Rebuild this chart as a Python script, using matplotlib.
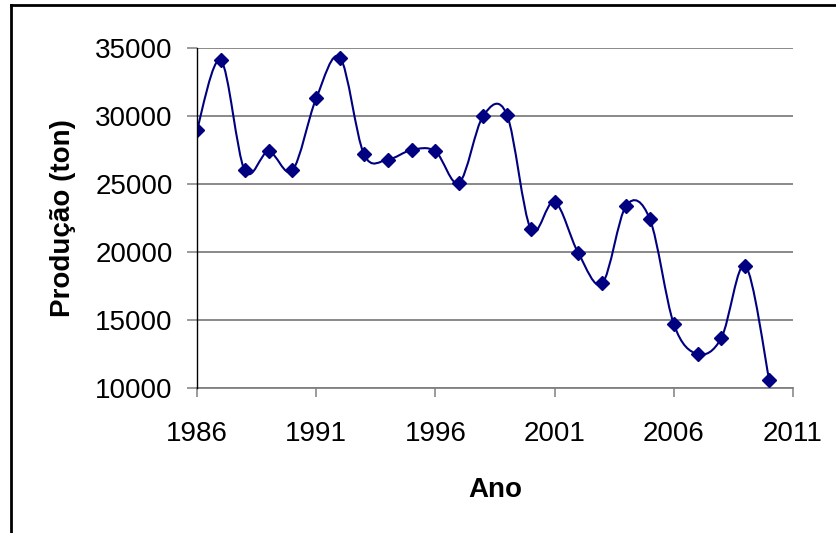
import matplotlib.pyplot as plt
import numpy as np
from matplotlib.path import Path
from matplotlib.patches import PathPatch
from matplotlib.lines import Line2D

plt.rcParams['font.family'] = ['Liberation Sans', 'DejaVu Sans']

# dados
anos = [1986, 1987, 1988, 1989, 1990, 1991, 1992, 1993, 1994, 1995, 1996, 1997,
        1998, 1999, 2000, 2001, 2002, 2003, 2004, 2005, 2006, 2007, 2008, 2009, 2010]
producao = [29000, 34100, 26000, 27400, 26000, 31300, 34300, 27200, 26800, 27500, 27400, 25100,
            30000, 30100, 21700, 23700, 19900, 17700, 23400, 22400, 14700, 12500, 13700, 19000, 10600]
xticks = [1986, 1991, 1996, 2001, 2006, 2011]
yticks = [10000, 15000, 20000, 25000, 30000, 35000]

cor = '#000080'
cinza = '#808080'


def curva_suave(x, y):
    """Caminho Bezier cúbico ao estilo do Excel (linha suavizada) passando pelos pontos."""
    p = np.column_stack([x, y]).astype(float)
    n = len(p)
    verts = [p[0]]
    codes = [Path.MOVETO]
    for i in range(n - 1):
        p0 = p[i - 1] if i > 0 else p[i]
        p3 = p[i + 2] if i + 2 < n else p[i + 1]
        c1 = p[i] + (p[i + 1] - p0) / 6
        c2 = p[i + 1] - (p3 - p[i]) / 6
        verts += [c1, c2, p[i + 1]]
        codes += [Path.CURVE4] * 3
    return Path(verts, codes)


fig = plt.figure(figsize=(8.37, 5.33), dpi=100)
ax = fig.add_axes([197 / 837, 1 - 388 / 533, 596 / 837, 340 / 533])

ax.add_patch(PathPatch(curva_suave(anos, producao), facecolor='none', edgecolor=cor, lw=1.5, zorder=3))
ax.plot(anos, producao, linestyle='none', marker='D', markersize=7, color=cor, zorder=4)

ax.set_xlim(1986, 2011)
ax.set_ylim(10000, 35000)
ax.set_xticks(xticks)
ax.set_yticks(yticks)
ax.tick_params(axis='both', labelsize=20, direction='out', color=cinza, width=1.1)
ax.tick_params(axis='y', length=7.5, pad=10)
ax.tick_params(axis='x', length=6.5, pad=17)
ax.yaxis.grid(True, color=cinza, lw=1.3)
ax.set_axisbelow(True)

for s in ['top', 'right']:
    ax.spines[s].set_visible(False)
ax.spines['left'].set_color('black')
ax.spines['left'].set_linewidth(1.0)
ax.spines['left'].set_zorder(5)
ax.spines['bottom'].set_color(cinza)
ax.spines['bottom'].set_linewidth(1.3)

ax.set_xlabel('Ano', fontsize=20, fontweight='bold', labelpad=22)
ax.set_ylabel('Produção (ton)', fontsize=20, fontweight='bold', labelpad=14)

# moldura do gráfico (só topo e lado esquerdo aparecem)
fig.add_artist(Line2D([11 / 837, 1.0], [1 - 4.5 / 533] * 2, color='black', lw=2))
fig.add_artist(Line2D([11 / 837] * 2, [0, 1 - 4.5 / 533], color='black', lw=2))

fig.savefig('out.png', dpi=100)
